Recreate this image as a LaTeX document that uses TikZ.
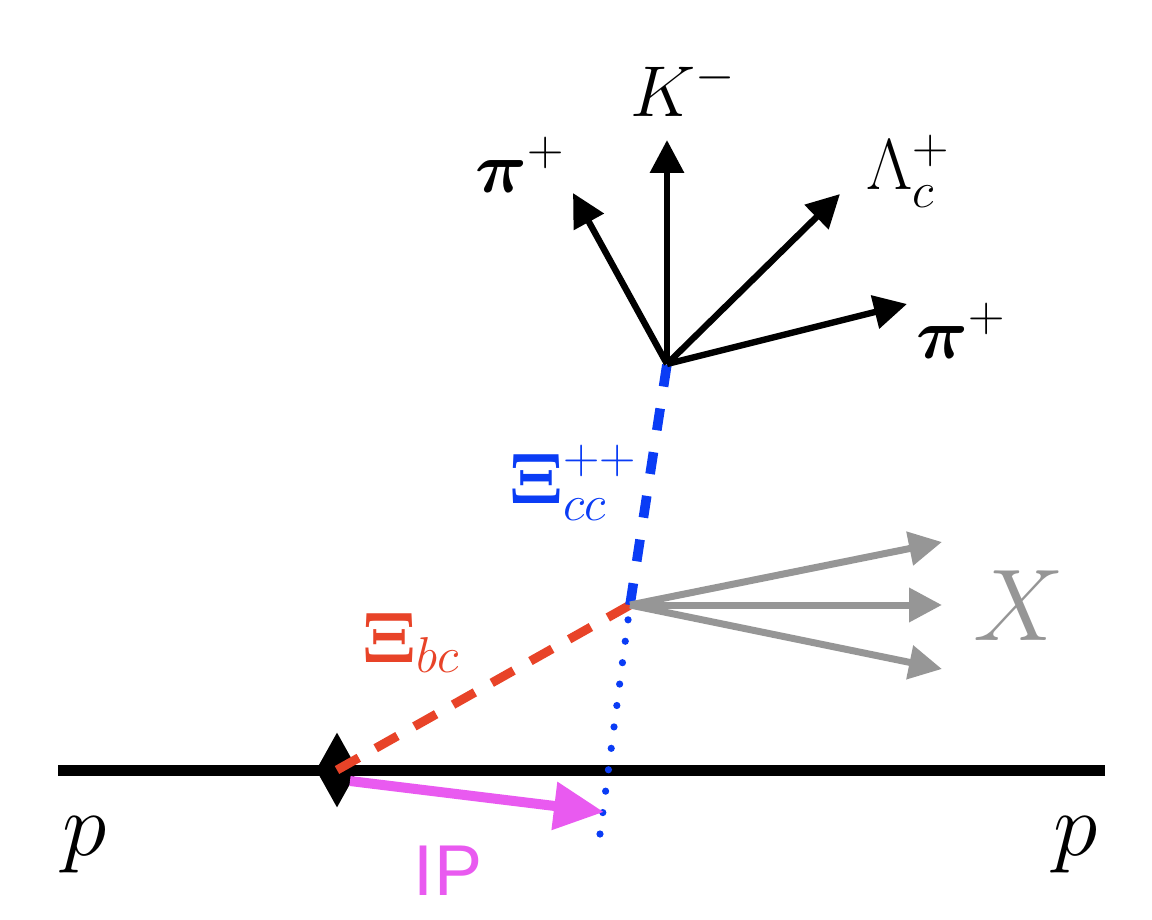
\RequirePackage{fix-cm}
\documentclass[tikz,border=0pt]{standalone}
\usepackage{amsmath,amsfonts}
\usepackage{fontspec}
\newfontfamily\ipfont{Liberation Sans}
\usepackage{tikz}
\usetikzlibrary{arrows.meta,shapes.geometric}

\definecolor{xired}{RGB}{232,67,40}
\definecolor{xiblue}{RGB}{10,60,245}
\definecolor{xgray}{RGB}{150,150,150}
\definecolor{ipmag}{RGB}{233,90,240}

\begin{document}
\begin{tikzpicture}[x=0.5pt,y=-0.5pt,
    ptext/.style={inner sep=0pt,anchor=base,font=\fontsize{36}{40}\selectfont},
    beam/.style={line width=5.5pt},
    decay/.style={line width=3.2pt,-{Triangle[length=16.5pt,width=16.5pt]}},
    rest/.style={color=xgray,line width=3.5pt,-{Triangle[length=16.5pt,width=16.5pt]}},
    xibc/.style={color=xired,line width=4.5pt,dash pattern=on 12.5pt off 9.7pt},
    xicc/.style={color=xiblue,line width=4.8pt,dash pattern=on 11pt off 11.1pt},
    flight/.style={color=xiblue,line width=3.6pt,line cap=round,dash pattern=on 0pt off 10.8pt},
    ipvec/.style={color=ipmag,line width=5pt,-{Triangle[length=25pt,width=23pt]}}]
   \useasboundingbox (0,0) rectangle (1152,920);
   % beam and vertices
   \coordinate (b_l) at (58,770);
   \coordinate (b_r) at (1105,770);
   \draw[beam] (b_l) -- (b_r);
   \node[diamond,fill=black,inner sep=0pt,minimum width=21pt,minimum height=37.5pt] (v_0) at (337,770) {};
   \coordinate (v_1) at (630,605);
   \coordinate (v_2) at (667,364);
   \coordinate (ip_0) at (350,781);
   \coordinate (ip_1) at (604,812);
   \coordinate (d_1) at (600,834);
   % decay products
   \coordinate (t_1) at (573,193);
   \coordinate (t_2) at (667,140);
   \coordinate (t_3) at (840,194);
   \coordinate (t_4) at (907,304);
   \coordinate (x_1) at (942,542);
   \coordinate (x_2) at (942,605);
   \coordinate (x_3) at (942,669);
   \path (v_0.center) edge[xibc] (v_1);
   \path (v_1) edge[xicc] (v_2);
   \path (d_1) edge[flight] (v_1);
   \path 
    (v_1) edge[rest] (x_1)
          edge[rest] (x_2)
          edge[rest] (x_3);
   \draw[ipvec] (ip_0) -- (ip_1);
   \path
    (v_2) edge[decay] (t_1)
          edge[decay] (t_2)
          edge[decay] (t_3)
          edge[decay] (t_4);
   % labels
   \node[ptext] (l_1) at (520,192) {$\boldsymbol{\pi}^+$};
   \node[ptext] (l_2) at (683,117) {$K^-$};
   \node[ptext] (l_3) at (908,190) {$\Lambda_c^+$};
   \node[ptext] (l_4) at (961,358) {$\boldsymbol{\pi}^+$};
   \node[ptext,text=xiblue] (l_5) at (573,503) {$\boldsymbol{\Xi}_{cc}^{++}$};
   \node[ptext,text=xired] (l_6) at (411,662) {$\boldsymbol{\Xi}_{bc}$};
   \node[ptext,text=xgray,font=\fontsize{51}{56}\selectfont] (l_7) at (1019,640) {$X$};
   \node[ptext,font=\fontsize{45}{50}\selectfont] (p_l) at (85,855) {$p$};
   \node[ptext,font=\fontsize{45}{50}\selectfont] (p_r) at (1076,855) {$p$};
   \node[ptext,text=ipmag] (l_8) at (448,895) {\ipfont IP};
\end{tikzpicture}
\end{document}
